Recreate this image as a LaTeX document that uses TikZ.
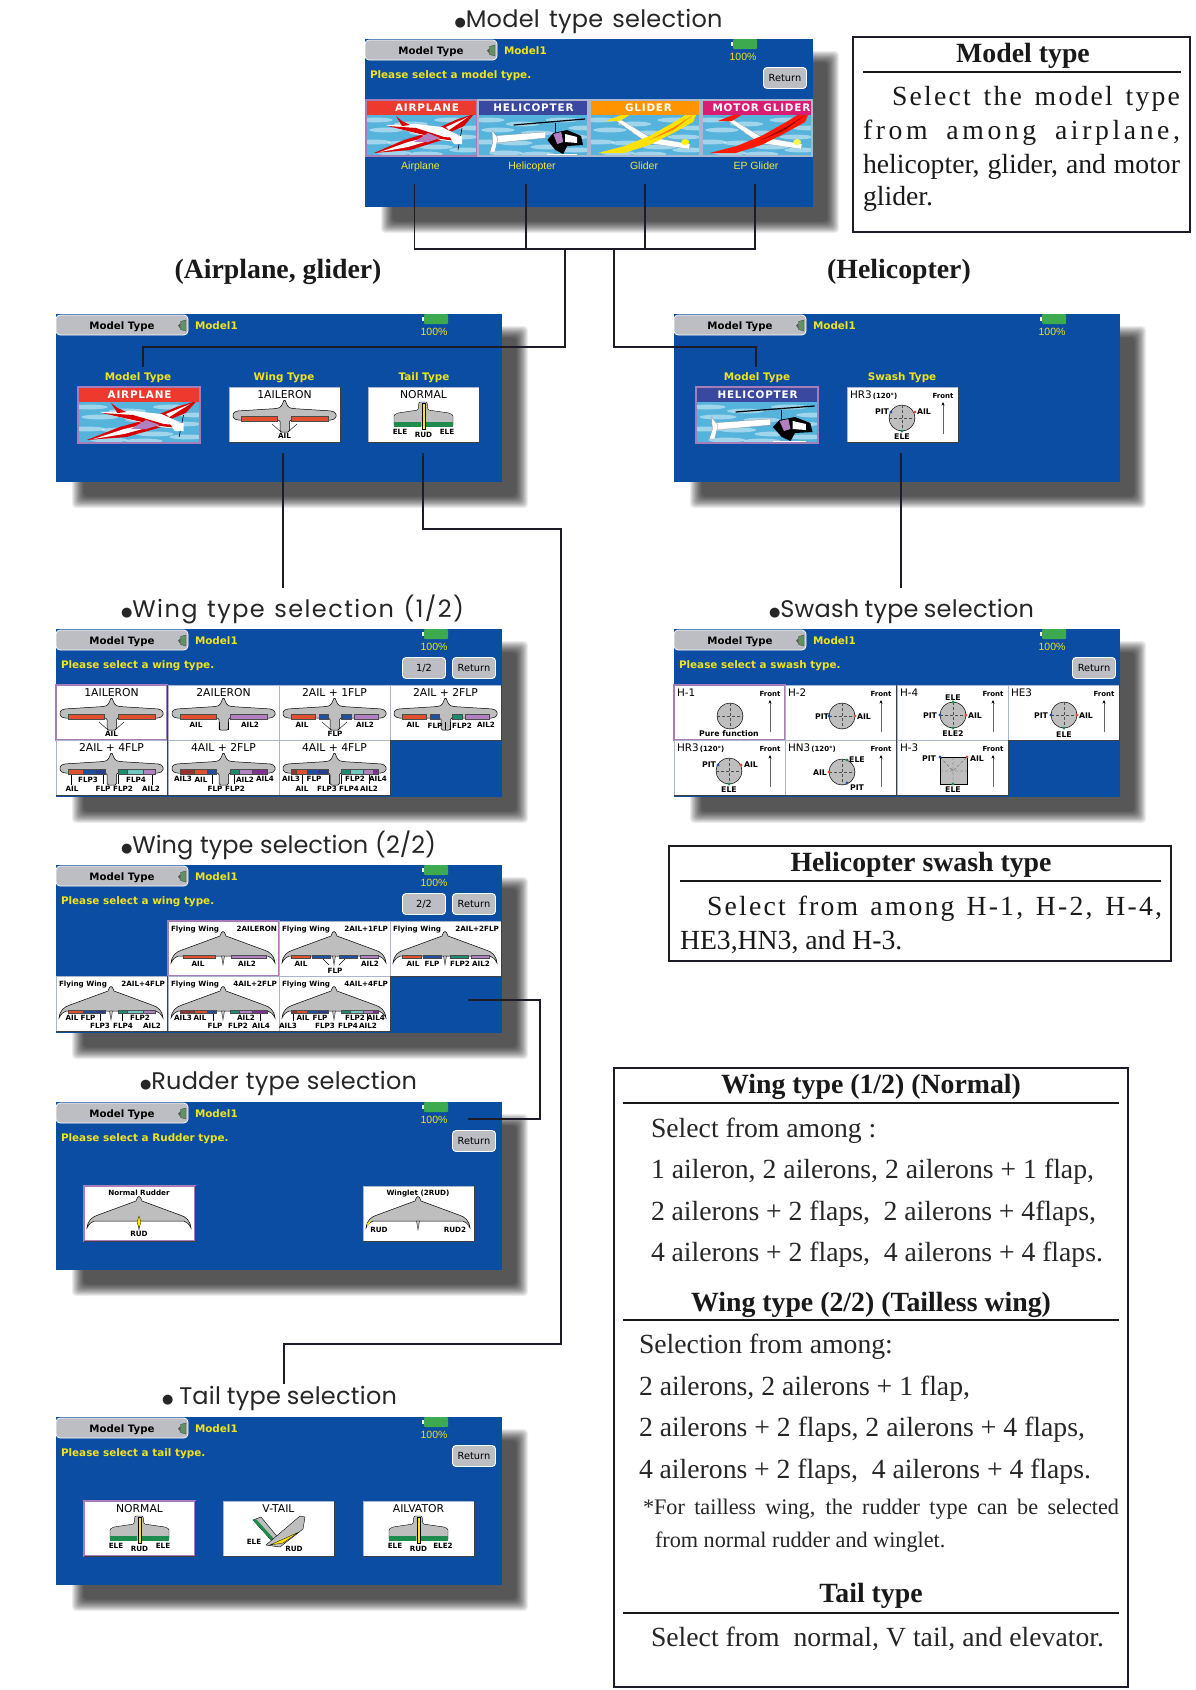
\documentclass[tikz,border=0pt]{standalone}
\usepackage{fontspec}
\setmainfont{Liberation Serif}
\newfontfamily\scrfont{DejaVu Sans}
\newfontfamily\headfont{Poppins}
\newfontfamily\lsfont{Liberation Sans}
\usetikzlibrary{arrows.meta}
\definecolor{scrblue}{HTML}{0B4DA2}
\definecolor{scryel}{HTML}{F0E41A}
\definecolor{tabgray}{HTML}{BDBDC4}
\definecolor{wgray}{HTML}{BEBEBE}
\definecolor{selpur}{HTML}{A67DB8}
\definecolor{normfr}{HTML}{A9B6CE}
\definecolor{flapR}{HTML}{E0502C}
\definecolor{flapP}{HTML}{B080C0}
\definecolor{flapB}{HTML}{1C50A0}
\definecolor{flapD}{HTML}{283C90}
\definecolor{flapT}{HTML}{1C8C70}
\definecolor{flapL}{HTML}{70C8C0}
\definecolor{flapX}{HTML}{983030}
\definecolor{flapV}{HTML}{803090}
\definecolor{skyb}{HTML}{55B3DC}
\definecolor{inkc}{HTML}{1C1C28}
\definecolor{elegreen}{HTML}{1E8C4C}
\definecolor{battg}{HTML}{3DAA50}
\definecolor{hdrheli}{HTML}{3A48A0}
\definecolor{hdrair}{HTML}{EE3A2E}
\newcounter{nn}
\newcommand\fsz[1]{\fontsize{#1}{#1}\selectfont}
\newcommand\bodyA{\fsz{27.7}\color{black!90}}
\newcommand\bodyB{\fsz{27.7}\color{black!85}}
\newcommand\bul{{\scrfont\fsz{13}\raisebox{0.5pt}{●}}}
\newcommand\T[3][]{\stepcounter{nn}\node[tx,#1] (n\thenn) at (#2) {#3};}
\newcommand\JT[4]{\T[anchor=base west]{#1,#2}{\makebox[#3pt][s]{#4}}}
\newcommand\HD[5][1]{\JT{#2}{#3}{#4}{\headfont\fsz{24}\addfontfeature{LetterSpace=#1}\color{black!85}#5}}
\tikzset{
 every node/.append style={outer sep=0pt},
 tx/.style={inner sep=0pt,anchor=base},
 conn/.style={draw=inkc,line width=1.9pt,line join=miter},
 stitle/.style={font=\bfseries\fsz{27.8},text=black!90},
 body/.style={font=\fsz{27.7},text=black!90},
 bodyb/.style={font=\fsz{27.7},text=black!85},
 lab/.style={font=\scrfont\bfseries\fsz{7.2},text=black},
 ctitle/.style={font=\scrfont\fsz{10.8},text=black},
 fwtitle/.style={font=\scrfont\bfseries\fsz{7.2},text=black},
 yelb/.style={font=\scrfont\bfseries\fsz{10.4},text=scryel},
 flat/.style={fill=scrblue,inner sep=0pt,anchor=north west},
 btnn/.style={fill=tabgray,draw=white,line width=.9pt,rounded corners=3.5pt,inner sep=0pt,font=\scrfont\fsz{9.8},text=black},
 cellnorm/.style={draw=normfr,line width=1pt},
 cellsel/.style={draw=selpur,line width=1.8pt},
 txbox/.style={draw=inkc,line width=2pt,inner sep=0pt,anchor=north west},
 txrule/.style={draw=black!90,line width=1.5pt},
}
% soft shadow
\newcommand\shad[4]{\foreach \i in {0,...,13}{\fill[black,opacity=.07,rounded corners=4pt] (#1+16+.9*\i,#2+12+.9*\i) rectangle (#1+#3+26-.9*\i,#2+#4+26-.9*\i);}}
% screen: name x y w h prompt
\newcommand\screen[6]{\shad{#2}{#3}{#4}{#5}
 \node[flat,minimum width=#4pt,minimum height=#5pt] (#1) at (#2,#3) {};
 \begin{scope}[shift={(#2,#3)}]
 \stepcounter{nn}\node[fill=tabgray,draw=white,line width=.7pt,rounded corners=4pt,anchor=north west,minimum width=132pt,minimum height=20pt,inner sep=0pt] (n\thenn) at (0,1) {};
 \T[font=\scrfont\bfseries\fsz{10.2}]{66,15.5}{Model Type}
 \fill[black!65] (122,11.5) -- (124.5,9) -- (124.5,15) -- cycle;
 \filldraw[fill=black!20!green!25!gray,draw=black!70,line width=.4pt] (124.5,7.5) -- (130,6) -- (130,17) -- (124.5,15.5) -- cycle;
 \T[yelb,anchor=base west]{139,15}{Model1}
 \fill[battg,rounded corners=1pt] (368,0) rectangle (392,10);
 \fill[white] (366,3) rectangle (368,7);
 \T[font=\lsfont\fsz{10.5},text=scryel]{378,21}{100\%}
 \T[yelb,anchor=base west]{5,39.5}{#6}
 \end{scope}}
\newcommand\btn[3]{\stepcounter{nn}\node[btnn,minimum width=43pt,minimum height=21pt] (n\thenn) at (#1,#2) {#3};}
\newcommand\cellbg[4][55]{\stepcounter{nn}\node[fill=white,#2,inner sep=0pt,anchor=north west,minimum width=#3pt,minimum height=#1pt] (#4) at (0,0) {};
 \draw[black!75,line width=.7pt] (0,#1) -- (#3,#1) -- (#3,0);}
\newcommand\wingshape{\filldraw[fill=wgray,draw=black,line width=.5pt,rounded corners=1.5pt] (4,26) -- (8,24) -- (48,21.5) -- (52,20) -- (55.5,12) -- (59,20) -- (63,21.5) -- (103,24) -- (107,26) -- (107,31) -- (103,33) -- (60.5,33) -- (60.5,45) -- (51,45) -- (51,33) -- (8,33) -- (4,31) -- cycle;}
\newcommand\flyshape{\filldraw[fill=wgray,draw=black,line width=.5pt] (3,42) .. controls (4,34) and (8,31) .. (14,29) -- (52,15) -- (53.5,11.5) -- (55,10.5) -- (56.5,11.5) -- (58,15) -- (96,29) .. controls (102,31) and (106,34) .. (107,42) .. controls (105,38) and (103,36) .. (100,35) -- (10,35) .. controls (7,36) and (5,38) .. (3,42) -- cycle;
 \filldraw[fill=wgray,draw=black,line width=.3pt] (53.5,35) -- (55,44) -- (56.5,35) -- cycle;}
\newcommand\wingcell[7]{\begin{scope}[shift={(#1,#2)}]
 \cellbg{#3}{111}{wc\thenn}\wingshape
 \foreach \a/\b/\c in {#5}{\fill[fill=\c,draw=black!70,line width=.3pt] (\a,29.5) rectangle (\b,34);}
 \foreach \a/\b/\c/\d in {#7}{\draw[line width=.4pt] (\a,\b) -- (\c,\d);}
 \foreach \a/\b/\c in {#6}{\T[lab]{\a,\b}{\c}}
 \T[ctitle]{55.5,11}{#4}
 \end{scope}}
\newcommand\flycell[7]{\begin{scope}[shift={(#1,#2)}]
 \cellbg{#3}{111}{fc\thenn}\flyshape
 \foreach \a/\b/\c in {#5}{\fill[fill=\c,draw=black!70,line width=.3pt] (\a,34) rectangle (\b,37);}
 \foreach \a/\b/\c/\d in {#7}{\draw[line width=.4pt] (\a,\b) -- (\c,\d);}
 \foreach \a/\b/\c in {#6}{\T[lab]{\a,\b}{\c}}
 \T[fwtitle,anchor=base west]{3,10}{Flying Wing}
 \T[fwtitle,anchor=base east]{109,10}{#4}
 \end{scope}}
\newcommand\tailcell[6]{\begin{scope}[shift={(#1,#2)}]
 \cellbg{#3}{111}{tc\thenn}
 \filldraw[fill=wgray,draw=black,line width=.4pt,rounded corners=1pt] (26,28) -- (30,26) -- (50,23) -- (51,15) -- (59,15) -- (60,23) -- (81,26) -- (85,28) -- (85,39) -- (26,39) -- cycle;
 \fill[elegreen] (26,35) rectangle (53,39.5);
 \fill[elegreen] (57,35) rectangle (85,39.5);
 \fill[#5,draw=black,line width=.3pt] (54,16) rectangle (57,42);
 \T[ctitle]{55.5,11}{#4}
 \foreach \a/\b/\c in {#6}{\T[lab]{\a,\b}{\c}}
 \end{scope}}
% swash helpers
\newcommand\swc[2]{\filldraw[fill=wgray,draw=black,line width=.5pt] (#1,#2) circle (13);
 \draw[black!70,densely dashed,line width=.3pt] (#1-13,#2) -- (#1+13,#2) (#1,#2-13) -- (#1,#2+13);}
\newcommand\dotc[3]{\fill[#3] (#1,#2) circle (1.7);}
\newcommand\swcell[6]{\begin{scope}[shift={(#1,#2)}]
 \cellbg{#3}{111}{sc\thenn}
 \T[anchor=base west,font=\scrfont\fsz{10.4}]{3,11}{#4}
 \T[lab,font=\scrfont\bfseries\fsz{7}]{96,11}{Front}
 \draw[black!60,line width=.5pt,-{Stealth[length=3.5pt,width=3pt,black]}] (96,47) -- (96,15);
 #5
 \foreach \a/\b/\c in {#6}{\T[lab,font=\scrfont\bfseries\fsz{7.8}]{\a,\b}{\c}}
 \end{scope}}
% thumbnails
\newcommand\thumb[8]{\begin{scope}[shift={(#2,#3)},xscale=#4/111]
 \begin{scope}
 \clip (0,0) rectangle (111,56);
 \fill[skyb] (0,0) rectangle (111,56);
 \foreach \q/\r in {10/20,45/24,85/20,108/28,20/30,60/33,95/37,8/42,38/43,70/47,100/50,28/53,60/54}{\fill[white,opacity=.45] (\q,\r) ellipse (17 and 2.4);}
 #8
 \fill[#5] (0,0) rectangle (111,15);
 \stepcounter{nn}\node[font=\scrfont\bfseries\fsz{10.4}\addfontfeature{LetterSpace=8},text=white,inner sep=0pt] (n\thenn) at (#7,8) {#6};
 \end{scope}
 \stepcounter{nn}\node[draw=#1,line width=1.4pt,inner sep=0pt,anchor=north west,minimum width=#4pt,minimum height=56pt] (n\thenn) at (0,0) {};
 \end{scope}}
\newcommand\kplane{
 \fill[red!85!black] (8,53) -- (38,40) -- (68,31) -- (76,40) -- (44,50) -- cycle;
 \fill[white] (14,52) -- (42,42) -- (70,35) -- (72,38) -- (42,47) -- cycle;
 \fill[red!85!black] (108,14) -- (92,19) -- (72,28) -- (80,34) -- (98,26) -- cycle;
 \fill[white] (102,17) -- (80,27) -- (83,30) -- cycle;
 \fill[white] (20,25) -- (50,24) -- (76,27) -- (92,35) -- (92,42) -- (75,40) -- (48,33) -- cycle;
 \fill[red!85!black] (22,26) -- (50,28) -- (78,37) -- (90,38) -- (90,41) -- (75,39) -- (46,32) -- cycle;
 \fill[red!85!black] (30,16) -- (36,21) -- (44,25) -- (36,26) -- cycle;
 \fill[flapP] (48,42) -- (62,33) -- (74,38) -- (62,42) -- cycle;
 \draw[black,line width=.6pt] (96,28) -- (92,50);
 \fill[white] (84,37) -- (96,36) -- (96,44) -- (88,44) -- cycle;}
\newcommand\kheli{
 \draw[black,line width=1.2pt] (36,25) -- (108,19);
 \draw[black,line width=.8pt] (78,23) -- (78,33);
 \fill[white,draw=black!50,line width=.2pt] (14,36) -- (68,32) -- (68,38) -- (17,43) -- cycle;
 \fill[white,draw=black!50,line width=.2pt] (14,30) -- (20,38) -- (17,52) -- (12,52) -- (15,42) -- cycle;
 \fill[black] (70,40) -- (76,33) -- (90,30) -- (104,36) -- (106,45) -- (90,46) -- (86,54) -- (78,50) -- cycle;
 \fill[flapP] (76,34) -- (84,32) -- (86,42) -- (80,44) -- cycle;
 \fill[white] (88,34) -- (100,37) -- (100,43) -- (88,42) -- cycle;
 \draw[white,line width=1pt] (70,54) -- (100,54);}
\newcommand\kglider[3]{
 \fill[white,draw=black!40,line width=.2pt] (24,19) -- (30,19) -- (60,37) -- (101,44) -- (100,49) -- (58,43) -- cycle;
 \fill[#1] (8,53) -- (35,46) -- (60,36) -- (85,22) -- (106,9) -- (110,8) -- (104,22) -- (84,33) -- (60,45) -- (34,53) -- cycle;
 \fill[#1] (16,21) -- (34,14) -- (40,15) -- (30,21) -- cycle;
 \fill[#3] (60,40) -- (85,27) -- (104,15) -- (84,30) -- cycle;
 \fill[#2] (96,42) ellipse (4 and 3);}
\begin{document}
\begin{tikzpicture}[x=1pt,y=-1pt]
\useasboundingbox (0,0) rectangle (1195,1690);
\fill[white] (0,0) rectangle (1195,1690);

%--------- top screen
\screen{sModel}{365}{39}{448}{168}{Please select a model type.}
\btn{785}{78}{Return}
\HD{454.5}{27}{268}{\bul Model type selection}
\thumb{selpur}{366}{100}{111}{hdrair}{AIRPLANE}{61}{\kplane}
\thumb{normfr}{478}{100}{110}{hdrheli}{HELICOPTER}{56}{\kheli}
\thumb{normfr}{590}{100}{110}{orange!85!yellow}{GLIDER}{59}{\kglider{yellow!85!orange}{yellow}{orange}}
\thumb{normfr}{702}{100}{110}{magenta!60!purple}{MOTOR GLIDER}{60}{\kglider{red!80!orange}{yellow!70}{red!60!black}}
\foreach \x/\t in {420.5/Airplane,532/Helicopter,644/Glider,756/EP Glider}{\T[font=\lsfont\fsz{10.5},text=scryel!85!white]{\x,169}{\t}}

%--------- model type box
\node[txbox,minimum width=337pt,minimum height=195pt] (bModel) at (853,37) {};
\T[stitle]{1023,62}{Model type}
\coordinate (r1a) at (863,72); \coordinate (r1b) at (1181,72);
\draw[txrule,line width=2pt] (r1a) -- (r1b);
\JT{892}{105}{288}{\bodyA\addfontfeature{LetterSpace=8}Select the model type}
\JT{863}{139}{317}{\bodyA\addfontfeature{LetterSpace=13}from among airplane,}
\JT{863}{173}{317}{\bodyA helicopter, glider, and motor}
\T[anchor=base west,body]{863,205}{glider.}

%--------- section titles
\T[stitle]{278,278}{(Airplane, glider)}
\T[stitle]{899,278}{(Helicopter)}

%--------- airplane screen
\screen{sAir}{56}{314}{446}{168}{}
\T[yelb]{138,380}{Model Type}
\T[yelb]{284,380}{Wing Type}
\T[yelb]{424,380}{Tail Type}
\thumb{selpur}{78}{387}{122}{hdrair}{AIRPLANE}{56}{\kplane}
\wingcell{229}{387}{cellnorm}{1AILERON}{12/48/flapR,62/99/flapR}{55.5/51/AIL}{43/37/52/45,68/37/59/45}
\tailcell{368}{387}{cellnorm}{NORMAL}{yellow!90!orange}{32/47/ELE,55.5/50/RUD,79/47/ELE}

%--------- heli screen
\screen{sHeli}{674}{314}{446}{168}{}
\T[yelb]{757,380}{Model Type}
\T[yelb]{902,380}{Swash Type}
\thumb{selpur}{696}{387}{122}{hdrheli}{HELICOPTER}{56}{\kheli}
\swcell{847}{387}{cellnorm}{HR3{\fsz{7}\bfseries\,(120°)}}{\swc{55}{31}\dotc{44}{25}{flapB}\dotc{68}{25}{flapR}\dotc{55}{44}{elegreen}}{35/27/PIT,77/27/AIL,55/52/ELE}

%--------- wing 1/2
\HD[6]{121}{617}{343}{\bul Wing type selection (1/2)}
\screen{sWingA}{56}{629}{446}{168}{Please select a wing type.}
\btn{424}{668}{1/2}
\btn{474}{668}{Return}
\wingcell{56}{685}{cellsel}{1AILERON}{12/48/flapR,62/99/flapR}{55.5/51/AIL}{43/37/52/45,68/37/59/45}
\wingcell{168}{685}{cellnorm}{2AILERON}{12/48/flapR,62/99/flapP}{28/42/AIL,82/42/AIL2}{51/37/51/45,60/37/60/45}
\wingcell{279}{685}{cellnorm}{2AIL + 1FLP}{12/36/flapR,40/49/flapB,62/72/flapB,75/99/flapP}{23/42/AIL,86/42/AIL2,56/51/FLP}{43/37/52/45,68/37/59/45}
\wingcell{390}{685}{cellnorm}{2AIL + 2FLP}{12/36/flapR,40/49/flapB,62/72/flapT,75/99/flapP}{23/42/AIL,45/43/FLP,72/43/FLP2,96/42/AIL2}{55/37/55/45,60/37/60/45}
\wingcell{56}{740}{cellnorm}{2AIL + 4FLP}{12/27/flapR,27/39/flapB,39/49/flapD,62/71/flapT,71/87/flapL,87/99/flapP}{32/42/FLP3,80/42/FLP4,16/51/AIL,47/51/FLP,67/51/FLP2,95/51/AIL2}{15/35/15/45,47/35/47/44,62/35/62/44,96/35/96/45}
\wingcell{168}{740}{cellnorm}{4AIL + 2FLP}{12/26/flapX,26/39/flapR,39/48/flapB,62/71/flapT,71/84/flapP,84/99/flapV}{15/41/AIL3,33/42/AIL,77/42/AIL2,97/41/AIL4,47/51/FLP,67/51/FLP2}{44/35/44/44,66/35/66/44}
\wingcell{279}{740}{cellnorm}{4AIL + 4FLP}{12/17/flapX,17/28/flapR,28/38/flapB,38/49/flapD,62/71/flapT,71/84/flapL,84/94/flapP,94/99/flapV}{12/41/AIL3,35/41/FLP,76/41/FLP2,99/41/AIL4,23/51/AIL,48/51/FLP3,70/51/FLP4,90/51/AIL2}{23/35/23/44,50/35/50/44,62/35/62/44,90/35/90/44}

%--------- wing 2/2
\HD[0]{121}{853}{315}{\bul Wing type selection (2/2)}
\screen{sWingB}{56}{865}{446}{168}{Please select a wing type.}
\btn{424}{904}{2/2}
\btn{474}{904}{Return}
\flycell{168}{921}{cellsel}{2AILERON}{15/47/flapR,63/98/flapP}{30/45/AIL,79/45/AIL2}{0/0/0/0}
\flycell{279}{921}{cellnorm}{2AIL+1FLP}{12/31/flapR,33/51/flapB,60/78/flapB,81/99/flapP}{22/45/AIL,91/45/AIL2,56/52/FLP}{44/38/50/44,66/38/60/44}
\flycell{390}{921}{cellnorm}{2AIL+2FLP}{12/31/flapR,33/51/flapB,60/78/flapT,81/99/flapP}{23/45/AIL,42/45/FLP,70/45/FLP2,91/45/AIL2}{0/0/0/0}
\flycell{56}{976}{cellnorm}{2AIL+4FLP}{12/27/flapR,27/39/flapB,39/49/flapD,62/71/flapT,71/87/flapL,87/99/flapP}{16/44/AIL,32/44/FLP,84/44/FLP2,44/52/FLP3,67/52/FLP4,96/52/AIL2}{44/38/44/45,66/38/66/45}
\flycell{168}{976}{cellnorm}{4AIL+2FLP}{12/26/flapX,26/39/flapR,39/48/flapB,62/71/flapT,71/84/flapP,84/99/flapV}{15/44/AIL3,32/44/AIL,78/44/AIL2,47/52/FLP,70/52/FLP2,93/52/AIL4}{45/38/45/45,92/38/92/45}
\flycell{279}{976}{cellnorm}{4AIL+4FLP}{12/17/flapX,17/28/flapR,28/38/flapB,38/49/flapD,62/71/flapT,71/84/flapL,84/94/flapP,94/99/flapV}{24/44/AIL,41/44/FLP,76/44/FLP2,97/44/AIL4,9/52/AIL3,46/52/FLP3,69/52/FLP4,89/52/AIL2}{14/38/14/45,88/38/88/45}

%--------- rudder
\HD{140}{1089}{277}{\bul Rudder type selection}
\screen{sRud}{56}{1102}{446}{168}{Please select a Rudder type.}
\btn{474}{1141}{Return}
\begin{scope}[shift={(84,1186)}]
 \cellbg{cellsel}{111}{rudA}\flyshape
 \fill[yellow!90!orange,draw=black,line width=.3pt] (55,30) -- (57,36) -- (55,42) -- (53,36) -- cycle;
 \T[fwtitle]{55,9}{Normal Rudder}
 \T[lab]{55,50}{RUD}
\end{scope}
\begin{scope}[shift={(363,1186)}]
 \cellbg{cellnorm}{111}{rudB}\flyshape
 \fill[yellow!90!orange] (4,41) -- (4.5,37) -- (8,35) -- cycle;
 \fill[black!50] (106,41) -- (105,37) -- (102,35) -- cycle;
 \T[fwtitle]{55,9}{Winglet (2RUD)}
 \T[lab]{16,46}{RUD}
 \T[lab]{92,46}{RUD2}
\end{scope}

%--------- tail
\HD{162}{1404}{235}{\bul\ Tail type selection}
\screen{sTail}{56}{1417}{446}{168}{Please select a tail type.}
\btn{474}{1456}{Return}
\tailcell{84}{1501}{cellsel}{NORMAL}{yellow!90!orange}{32/47/ELE,55.5/50/RUD,79/47/ELE}
\begin{scope}[shift={(223,1501)}]
 \cellbg{cellnorm}{111}{tailV}
 \filldraw[fill=wgray,draw=black,line width=.4pt] (30,19) -- (38,16) -- (57,39) -- (48,39) -- cycle;
 \fill[elegreen] (30,19) -- (33,18) -- (52,39) -- (48,39) -- cycle;
 \filldraw[fill=wgray,draw=black,line width=.4pt] (43,44) -- (77,15) -- (82,16) -- (80,28) -- (57,46) -- cycle;
 \fill[yellow!85!orange,draw=black,line width=.3pt] (47,44) -- (76,31) -- (60,42) -- cycle;
 \T[ctitle]{55.5,11}{V-TAIL}
 \T[lab]{31,43}{ELE}
 \T[lab]{71,50}{RUD}
\end{scope}
\tailcell{363}{1501}{cellnorm}{AILVATOR}{yellow!90!orange}{32/47/ELE,55.5/50/RUD,80/47/ELE2}

%--------- swash
\HD{769}{617}{265}{\bul Swash type selection}
\screen{sSwash}{674}{629}{446}{168}{Please select a swash type.}
\btn{1094}{668}{Return}
\swcell{674}{685}{cellsel}{H-1}{\swc{56}{31}}{55/51/Pure~function}
\swcell{785}{685}{cellnorm}{H-2}{\swc{57}{31}\dotc{44}{31}{flapB}\dotc{70}{31}{flapR}}{37/34/PIT,79/34/AIL}
\swcell{897}{685}{cellnorm}{H-4}{\swc{56}{30}\dotc{43}{30}{flapB}\dotc{69}{30}{flapR}\dotc{56}{17}{elegreen}\dotc{56}{43}{elegreen}}{33/33/PIT,78/33/AIL,56/15/ELE,56/51/ELE2}
\swcell{1008}{685}{cellnorm}{HE3}{\swc{56}{30}\dotc{43}{30}{flapB}\dotc{69}{30}{flapR}\dotc{56}{43}{elegreen}}{33/33/PIT,78/33/AIL,56/52/ELE}
\swcell{674}{740}{cellnorm}{HR3{\fsz{7}\bfseries\,(120°)}}{\swc{55}{31}\dotc{44}{25}{flapB}\dotc{67}{25}{flapR}\dotc{55}{44}{elegreen}}{35/27/PIT,77/27/AIL,55/52/ELE}
\swcell{785}{740}{cellnorm}{HN3{\fsz{7}\bfseries\,(120°)}}{\swc{57}{32}\dotc{44}{32}{flapR}\dotc{62}{20}{elegreen}\dotc{62}{43}{flapB}}{35/35/AIL,72/22/ELE,72/50/PIT}
\swcell{897}{740}{cellnorm}{H-3}{\filldraw[fill=wgray,draw=black,line width=.5pt] (43,17) rectangle (70,44);\draw[black!70,densely dashed,line width=.3pt] (43,17) -- (56,31) -- (70,17) (56,17) -- (56,44) (43,31) -- (70,31);\dotc{43}{17}{flapB}\dotc{70}{17}{flapR}\dotc{56}{44}{elegreen}}{32/21/PIT,80/21/AIL,56/52/ELE}

%--------- helicopter swash box
\node[txbox,minimum width=502pt,minimum height=115pt] (bSwash) at (669,846) {};
\T[stitle]{921,871}{Helicopter swash type}
\coordinate (r2a) at (680,881); \coordinate (r2b) at (1161,881);
\draw[txrule] (r2a) -- (r2b);
\JT{707}{915}{455}{\bodyA\addfontfeature{LetterSpace=8}Select from among H-1, H-2, H-4,}
\T[anchor=base west,body]{680,949}{HE3,HN3, and H-3.}

%--------- big text box
\node[txbox,minimum width=514pt,minimum height=619pt] (bWing) at (613.5,1068) {};
\T[stitle]{871,1093}{Wing type (1/2) (Normal)}
\coordinate (r3a) at (623,1103); \coordinate (r3b) at (1119,1103);
\draw[txrule] (r3a) -- (r3b);
\T[anchor=base west,bodyb]{651,1137}{Select from among :}
\JT{651}{1178}{443}{\bodyB 1 aileron, 2 ailerons, 2 ailerons + 1 flap,}
\JT{651}{1220}{445}{\bodyB 2 ailerons + 2 flaps,\ \ 2 ailerons + 4flaps,}
\JT{651}{1261}{452}{\bodyB 4 ailerons + 2 flaps,\ \ 4 ailerons + 4 flaps.}
\T[stitle]{871,1311}{Wing type (2/2) (Tailless wing)}
\coordinate (r4a) at (623,1320); \coordinate (r4b) at (1119,1320);
\draw[txrule] (r4a) -- (r4b);
\T[anchor=base west,bodyb]{639,1353}{Selection from among:}
\T[anchor=base west,bodyb]{639,1395}{2 ailerons, 2 ailerons + 1 flap,}
\JT{639}{1436}{446}{\bodyB 2 ailerons + 2 flaps, 2 ailerons + 4 flaps,}
\JT{639}{1478}{452}{\bodyB 4 ailerons + 2 flaps,\ \ 4 ailerons + 4 flaps.}
\JT{643}{1514}{476}{\fsz{22.2}\color{black!85}*For tailless wing, the rudder type can be selected}
\T[anchor=base west,font=\fsz{22.2},text=black!85]{655,1547}{from normal rudder and winglet.}
\T[stitle]{871,1602}{Tail type}
\coordinate (r5a) at (623,1613); \coordinate (r5b) at (1119,1613);
\draw[txrule] (r5a) -- (r5b);
\JT{651}{1646}{453}{\bodyB Select from\ \ normal, V tail, and elevator.}

%--------- connectors
\coordinate (t1) at (414.5,184); \coordinate (t2) at (526,184); \coordinate (t3) at (645,184); \coordinate (t4) at (755,184);
\coordinate (j1) at (414.5,249); \coordinate (j2) at (526,249); \coordinate (j3) at (645,249); \coordinate (j4) at (755,249);
\coordinate (j5) at (565,249); \coordinate (j6) at (614,249);
\coordinate (k5) at (565,347); \coordinate (k6) at (143,347); \coordinate (m1) at (143,367);
\coordinate (k7) at (614,347); \coordinate (k8) at (756,347); \coordinate (m2) at (756,367);
\draw[conn] (t1) -- (j1) -- (j4) -- (t4);
\draw[conn] (t2) -- (j2);
\draw[conn] (t3) -- (j3);
\draw[conn] (j5) -- (k5) -- (k6) -- (m1);
\draw[conn] (j6) -- (k7) -- (k8) -- (m2);
\coordinate (w1) at (283,453); \coordinate (w2) at (283,588);
\draw[conn] (w1) -- (w2);
\coordinate (q1) at (423,453); \coordinate (q2) at (423,529); \coordinate (q3) at (561,529); \coordinate (q4) at (561,1344); \coordinate (q5) at (284,1344); \coordinate (q6) at (284,1384);
\draw[conn] (q1) -- (q2) -- (q3) -- (q4) -- (q5) -- (q6);
\coordinate (s1) at (901,453); \coordinate (s2) at (901,588);
\draw[conn] (s1) -- (s2);
\coordinate (u1) at (468,1000); \coordinate (u2) at (540,1000); \coordinate (u3) at (540,1119); \coordinate (u4) at (468,1119);
\draw[conn] (u1) -- (u2) -- (u3) -- (u4);
\end{tikzpicture}
\end{document}
